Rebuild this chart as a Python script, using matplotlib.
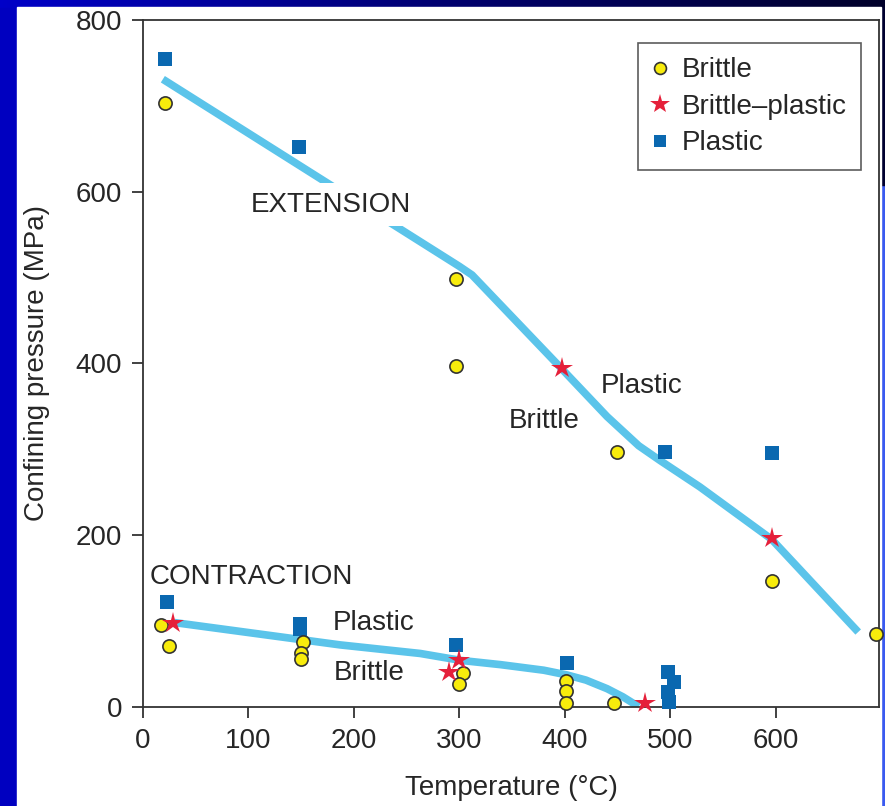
# Brittle / plastic transition: confining pressure vs temperature
#

import numpy as np
import matplotlib.pyplot as plt
from matplotlib.patches import Rectangle

plt.rcParams['font.family'] = ['Liberation Sans', 'DejaVu Sans']

# extension experiments
ext_brittle_t = [21, 297, 297, 449, 596, 695]
ext_brittle_p = [703, 498, 397, 297, 146, 85]
ext_bp_t = [397, 596]
ext_bp_p = [395, 197]
ext_plastic_t = [21, 148, 495, 596]
ext_plastic_p = [754, 652, 297, 296]

# contraction experiments
con_brittle_t = [17, 25, 152, 150, 150, 303, 300, 401, 401, 401, 447]
con_brittle_p = [95, 71, 75, 62, 55, 39, 27, 30, 18, 4, 4]
con_bp_t = [29, 300, 290, 476]
con_bp_p = [98, 54, 40, 4]
con_plastic_t = [23, 149, 149, 297, 402, 498, 503, 498, 499]
con_plastic_p = [122, 96, 90, 72, 51, 41, 29, 17, 6]

# boundary curves
ext_line_t = [19, 300, 312, 396, 440, 470, 490, 528, 596, 678]
ext_line_p = [731, 513, 503, 395, 338, 304, 287, 256, 195, 87]
con_line_t = [30, 187, 263, 301, 339, 380, 402, 420, 440, 455, 470]
con_line_p = [98, 72, 62, 54, 49, 42.5, 37, 31, 21, 11.5, 0]

W, H = 885, 806
fig = plt.figure(figsize=(W / 100, H / 100), dpi=100)
fig.patch.set_facecolor('#0000c0')

# slide background: dark top band, blue right strip, white panel
bg = fig.add_axes([0, 0, 1, 1], zorder=-10)
bg.set_axis_off()
grad = np.linspace(0, 1, 256).reshape(1, -1)
bg.imshow(grad, cmap=plt.matplotlib.colors.LinearSegmentedColormap.from_list(
    'slide', ['#0000c8', '#000070', '#00002a']), aspect='auto',
    extent=[0, W, H - 8, H])
bg.add_patch(Rectangle((0, 0), 17, H - 8, color='#0000c0'))
bg.add_patch(Rectangle((881, 0), 4, H - 185, color='#3a5af0'))
bg.add_patch(Rectangle((881, H - 185), 4, 177, color='#000030'))
bg.add_patch(Rectangle((17, 0), 864, H - 7, color='white'))
bg.set_xlim(0, W)
bg.set_ylim(0, H)

ax = fig.add_axes([142.8 / W, 1 - 706.7 / H, 736.5 / W, 686.7 / H])
ax.set_facecolor('white')

line_kw = dict(color='#5bc4ea', lw=5.5, solid_capstyle='butt', solid_joinstyle='round', zorder=2)
ax.plot(ext_line_t, ext_line_p, **line_kw)
ax.plot(con_line_t, con_line_p, **line_kw)

brittle_kw = dict(ls='none', marker='o', ms=9.5, mfc='#f8ec0c', mec='#333333', mew=1.2, zorder=4, clip_on=False)
bp_kw = dict(ls='none', marker='*', ms=16, mfc='#e5203a', mec='#e5203a', mew=0, zorder=5, clip_on=False)
plastic_kw = dict(ls='none', marker='s', ms=9.5, mfc='#0a68b0', mec='#0a68b0', mew=0, zorder=3, clip_on=False)

ax.plot(ext_plastic_t, ext_plastic_p, label='Plastic', **plastic_kw)
ax.plot(con_plastic_t, con_plastic_p, **plastic_kw)
ax.plot(ext_brittle_t, ext_brittle_p, label='Brittle', **brittle_kw)
ax.plot(con_brittle_t, con_brittle_p, **brittle_kw)
ax.plot(ext_bp_t, ext_bp_p, label='Brittle\u2013plastic', **bp_kw)
ax.plot(con_bp_t, con_bp_p, **bp_kw)

txt = '#262626'
ax.text(178, 585, 'EXTENSION', fontsize=20, color=txt, ha='center', va='center', zorder=6,
        bbox=dict(boxstyle='square,pad=0.3', facecolor='white', edgecolor='none'))
ax.text(473, 374, 'Plastic', fontsize=20, color=txt, ha='center', va='center')
ax.text(380, 333, 'Brittle', fontsize=20, color=txt, ha='center', va='center')
ax.text(6, 151, 'CONTRACTION', fontsize=20, color=txt, ha='left', va='center')
ax.text(219, 97, 'Plastic', fontsize=20, color=txt, ha='center', va='center')
ax.text(215, 39, 'Brittle', fontsize=20, color=txt, ha='center', va='center')

ax.set_xlim(0, 698)
ax.set_ylim(0, 800)
ax.set_xticks([0, 100, 200, 300, 400, 500, 600])
ax.set_yticks([0, 200, 400, 600, 800])
ax.tick_params(direction='out', length=8, width=1.3, color='#333333', labelsize=20,
               labelcolor=txt, pad=7)
for s in ax.spines.values():
    s.set_color('#333333')
    s.set_linewidth(1.3)

ax.set_xlabel('Temperature (\u00b0C)', fontsize=20, color=txt)
ax.set_ylabel('Confining pressure (MPa)', fontsize=20, color=txt)
ax.xaxis.set_label_coords(0.5, -0.1)
ax.yaxis.set_label_coords(-0.126, 0.5)

handles, labels = ax.get_legend_handles_labels()
order = [1, 2, 0]
leg = ax.legend([handles[i] for i in order], [labels[i] for i in order],
                loc='upper right', bbox_to_anchor=(0.975, 0.966), borderaxespad=0,
                fontsize=20, frameon=True, fancybox=False, handlelength=0.6,
                handletextpad=0.5, labelspacing=0.38, borderpad=0.5, markerscale=0.9)
leg.get_frame().set_edgecolor('#333333')
leg.get_frame().set_linewidth(1.2)
for t in leg.get_texts():
    t.set_color(txt)

plt.savefig('out.png', dpi=100)
